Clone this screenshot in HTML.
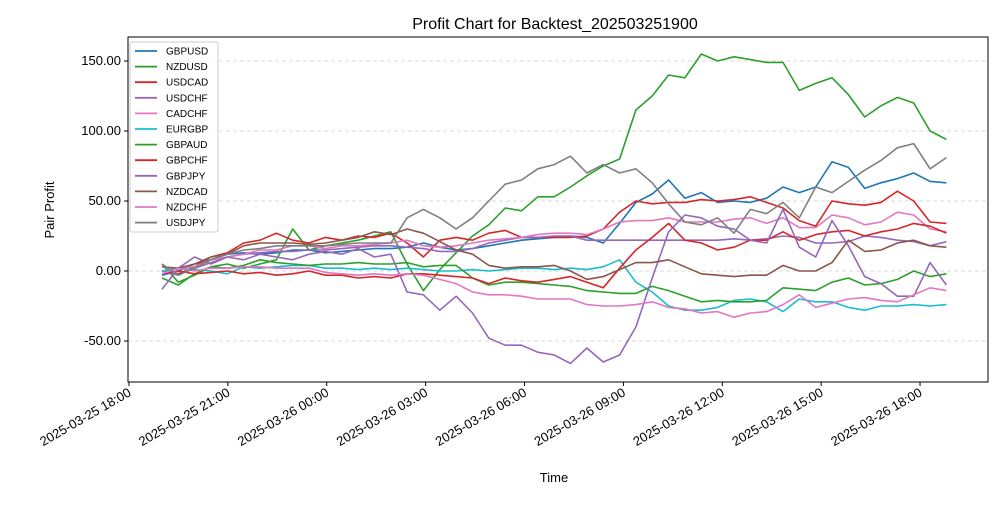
<!DOCTYPE html>
<html><head><meta charset="utf-8"><style>
body{margin:0;background:#fff;}
svg text{font-family:"Liberation Sans",sans-serif;fill:#000;}
</style></head><body>
<svg id="chart" width="1000" height="500" xmlns="http://www.w3.org/2000/svg">
<rect width="1000" height="500" fill="#fff"/>
<text x="555" y="29" font-size="16" text-anchor="middle">Profit Chart for Backtest_202503251900</text>
<g id="grid"></g><g id="series"></g>
<rect x="128" y="37" width="860" height="345" fill="none" stroke="#000" stroke-width="1"/>
<g id="axes"></g>
<text transform="translate(54,210) rotate(-90)" font-size="13" text-anchor="middle">Pair Profit</text>
<text x="554" y="482" font-size="13" text-anchor="middle">Time</text>
<g id="legend"></g>
</svg>
<script>
const seriesNames=["GBPUSD","NZDUSD","USDCAD","USDCHF","CADCHF","EURGBP","GBPAUD","GBPCHF","GBPJPY","NZDCAD","NZDCHF","USDJPY"];
const seriesColors=["#1f77b4","#2ca02c","#d62728","#9467bd","#e377c2","#17becf","#2ca02c","#d62728","#9467bd","#8c564b","#e377c2","#7f7f7f"];
const startHour=19; // 2025-03-25 19:00
const stepMinutes=29.75;
const GBPUSD=[-3,0,5,8,12,13,12,13,15,15,13,14,15,16,16,17,20,17,15,16,18,20,22,23,24,25,24,20,34,49,55,65,52,56,49,50,49,52,60,56,60,78,74,59,63,66,70,64,63];
const NZDUSD=[5,-8,-3,3,5,2,5,8,30,15,18,20,22,25,28,5,-14,1,13,25,33,45,43,53,53,60,68,75,80,115,125,140,138,155,150,153,151,149,149,129,134,138,126,110,118,124,120,100,94];
const USDCAD=[0,-2,3,10,13,20,22,27,22,20,24,22,25,24,27,20,10,22,24,22,27,29,24,24,24,24,25,30,42,50,48,49,49,51,50,51,53,49,45,36,32,50,48,47,49,57,50,35,34];
const USDCHF=[0,-3,2,6,10,12,13,14,14,15,15,16,17,18,18,17,16,14,14,16,20,22,24,24,25,25,22,22,22,22,22,22,22,22,22,23,22,23,25,24,20,20,21,25,24,22,21,18,21];
const CADCHF=[0,2,3,8,10,12,15,15,18,18,16,18,18,19,20,22,18,17,18,20,22,23,24,26,27,27,26,30,35,36,36,38,35,35,35,37,38,34,38,31,31,40,38,33,35,42,40,30,28];
const EURGBP=[0,2,1,0,-2,3,2,3,4,4,2,2,1,2,1,2,1,0,0,1,0,1,2,2,1,2,1,3,8,-8,-15,-25,-28,-28,-26,-21,-20,-22,-29,-20,-22,-22,-26,-28,-25,-25,-24,-25,-24];
const GBPAUD=[-5,-10,-2,3,2,4,8,6,5,4,5,5,6,5,5,6,3,4,4,-5,-10,-8,-8,-9,-10,-11,-14,-15,-16,-16,-11,-14,-18,-22,-21,-22,-22,-21,-12,-13,-14,-8,-5,-10,-9,-6,0,-4,-2];
const GBPCHF=[-2,0,-2,-1,0,-2,-1,-3,-2,0,-3,-3,-5,-4,-5,-2,-2,-3,-4,-5,-9,-5,-7,-8,-6,-4,-8,-12,2,15,24,34,22,20,15,17,22,22,28,22,26,28,29,25,28,30,34,32,27];
const GBPJPY=[-13,2,10,5,10,8,12,10,8,12,14,12,16,10,12,-15,-17,-28,-18,-30,-48,-53,-53,-58,-60,-66,-55,-65,-60,-40,-5,28,40,38,32,30,22,20,44,17,10,36,18,-4,-9,-18,-18,6,-10];
const NZDCAD=[3,2,5,10,12,18,20,20,20,19,20,22,24,28,26,30,27,21,15,12,4,2,3,3,4,0,-6,-4,1,6,6,8,3,-2,-3,-4,-3,-3,4,0,0,6,22,14,15,20,22,18,17];
const NZDCHF=[-2,2,0,2,2,3,3,2,2,2,-1,-2,-3,-2,-3,-2,-3,-6,-9,-15,-17,-17,-18,-20,-20,-20,-24,-25,-25,-24,-22,-26,-27,-30,-29,-33,-30,-29,-24,-17,-26,-23,-20,-19,-21,-22,-17,-12,-14];
const USDJPY=[5,-3,2,8,12,15,16,18,18,18,18,19,20,20,20,38,44,38,30,38,50,62,65,73,76,82,70,76,70,73,63,48,35,33,38,27,44,41,49,38,60,56,64,72,79,88,91,73,81];
const yTicks=[-50,0,50,100,150];
const xTickLabels=["2025-03-25 18:00","2025-03-25 21:00","2025-03-26 00:00","2025-03-26 03:00","2025-03-26 06:00","2025-03-26 09:00","2025-03-26 12:00","2025-03-26 15:00","2025-03-26 18:00"];
const xTickHours=[0,3,6,9,12,15,18,21,24];
const allSeries=[GBPUSD,NZDUSD,USDCAD,USDCHF,CADCHF,EURGBP,GBPAUD,GBPCHF,GBPJPY,NZDCAD,NZDCHF,USDJPY];

const NS="http://www.w3.org/2000/svg";
function xScale(h){return 129+h*32.96;}
function yScale(v){return 271-v*1.4;}
function mk(tag,attrs,parent){const e=document.createElementNS(NS,tag);for(const k in attrs)e.setAttribute(k,attrs[k]);parent.appendChild(e);return e;}
const grid=document.getElementById('grid'),axes=document.getElementById('axes'),ser=document.getElementById('series'),leg=document.getElementById('legend');
yTicks.forEach(v=>{
  const y=yScale(v);
  const g=mk('line',{x1:128,x2:988,y1:y,y2:y,stroke:'#ccc','stroke-dasharray':'4,3','stroke-width':0.8},grid);
  
  
  const t=mk('line',{x1:124,x2:128,y1:y,y2:y,stroke:'#000'},axes);
  
  
  const l=mk('text',{x:121,y:y+4,'font-size':13,'text-anchor':'end'},axes);
  l.textContent=v.toFixed(2);
  
  
});
xTickHours.forEach((h,i)=>{
  const x=xScale(h);
  const t=mk('line',{x1:x,x2:x,y1:382,y2:386,stroke:'#000'},axes);
  
  
  const l=mk('text',{transform:`translate(${x+3},${395}) rotate(-30)`,'font-size':13,'text-anchor':'end'},axes);
  l.textContent=xTickLabels[i];
  
  
});
allSeries.forEach((vals,si)=>{
  const pts=vals.map((v,i)=>xScale(startHour-18+i*stepMinutes/60).toFixed(1)+','+yScale(v).toFixed(1)).join(' ');
  const p=mk('polyline',{points:pts,fill:'none',stroke:seriesColors[si],'stroke-width':1.6,'stroke-linejoin':'round'},ser);
  
  
});
const box=mk('rect',{x:130,y:42,width:88,height:190,fill:'#fff','fill-opacity':0.85,stroke:'#ccc',rx:2},leg);


seriesNames.forEach((n,i)=>{
  const y=51+i*15.6;
  const l=mk('line',{x1:135,x2:157,y1:y,y2:y,stroke:seriesColors[i],'stroke-width':1.8},leg);
  
  
  const t=mk('text',{x:166,y:y+3.5,'font-size':10},leg);
  t.textContent=n;
  
  
});
</script>
</body></html>
